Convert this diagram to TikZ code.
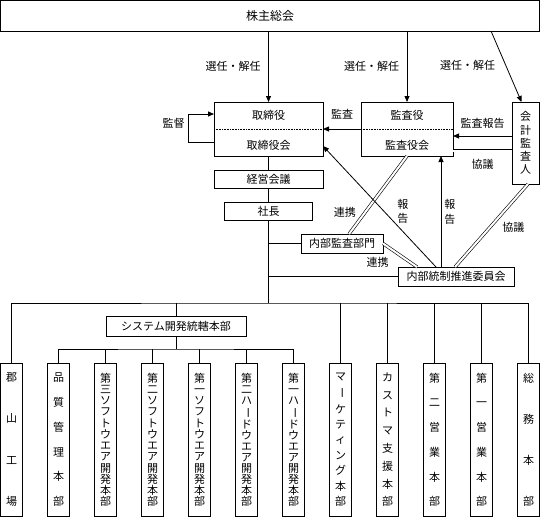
\documentclass[tikz,border=0pt]{standalone}
\usepackage{fontspec}
\setmainfont{Noto Sans CJK JP}
\usepackage{graphicx}
\usetikzlibrary{arrows.meta,positioning}

\makeatletter
\newcommand{\tate}[2]{\parbox[c][#1][s]{1em}{\centering\@tempswafalse
  \@tfor\tatechar:=#2\do{\if@tempswa\par\vfill\fi\@tempswatrue\tatechar}}}
\makeatother
\newcommand{\tbar}{\rotatebox[origin=c]{-90}{ー}}

\begin{document}
\begin{tikzpicture}[x=1pt,y=-1pt,>={Triangle[length=6pt,width=5pt]},line width=0.8pt,
    font=\fontsize{11}{11}\selectfont,
    box/.style={draw,inner sep=0pt,outer sep=0pt},
    tatebox/.style={draw,inner sep=0pt,outer sep=0pt,minimum width=22pt,minimum height=153.5pt},
    lbl/.style={inner sep=1pt},
    dbl/.style={double,double distance=2pt,line width=0.6pt}]
    \useasboundingbox (0,0) rectangle (540,517);
    % Shareholders, board, auditors
    \node[box,minimum width=539pt,minimum height=30.5pt,font=\fontsize{12}{12}\selectfont] (kn) at (270,15.75) {株主総会};
    \node[box,minimum width=109pt,minimum height=54pt] (tk) at (268.5,129) {};
    \node (tk1) at (268.5,115) {取締役};
    \node (tk2) at (268.5,145) {取締役会};
    \draw[densely dotted,line width=0.6pt] (tk.west) -- (tk.east);
    \node[box,minimum width=92pt,minimum height=54pt] (ks) at (407,129) {};
    \node (ks1) at (407,115) {監査役};
    \node (ks2) at (407,145) {監査役会};
    \draw[densely dotted,line width=0.6pt] (ks.west) -- (ks.east);
    \node[box,minimum width=27pt,minimum height=82pt] (kk) at (525.5,143) {\tate{62pt}{会計監査人}};
    \node[box,minimum width=109pt,minimum height=18pt,below=14pt of tk] (kg) {経営会議};
    \node[box,minimum width=88pt,minimum height=18pt,below=14pt of kg] (sc) {社長};
    \node[box,minimum width=82pt,minimum height=19pt] (nb) at (342,243.5) {内部監査部門};
    \node[box,minimum width=116pt,minimum height=19pt] (nt) at (456,276.5) {内部統制推進委員会};
    \coordinate (rp) at ([xshift=43pt]nt.north west);
    % Double lines (drawn first)
    \draw[dbl] ([xshift=7pt]nb.north) -- node[lbl,pos=0.28,left=8pt]{連携} (ks.south);
    \draw[dbl] (nb.east) -- node[lbl,below left=1pt and 10pt]{連携} ([xshift=19pt]nt.north west);
    \draw[dbl] ([xshift=57pt]nt.north west) -- node[lbl,pos=0.48,right=11pt]{協議} ([xshift=2.5pt]kk.south);
    \draw[dbl] (kk.west |- 0,150.5) -- node[lbl,below=7.5pt]{協議} (ks.east |- 0,150.5);
    % Arrows
    \draw[->] (kn.south -| tk.north) -- node[lbl,left=6.5pt]{選任・解任} (tk.north);
    \draw[->] (kn.south -| ks.north) -- node[lbl,left=6.5pt]{選任・解任} (ks.north);
    \draw[->] ([xshift=221pt]kn.south) -- node[lbl,pos=0.49,left=9.5pt]{選任・解任} ([xshift=-4pt]kk.north);
    \draw[->] ([yshift=-13pt]tk.west) -- ++(-26,0) |- node[lbl,pos=0.34,left=2pt]{監督} ([yshift=15pt]tk.west);
    \draw[->] (ks.west) -- node[lbl,above=8pt]{監査} (tk.east);
    \draw[->] (kk.west |- 0,136) -- node[lbl,above=6pt]{監査報告} (ks.east |- 0,136);
    \draw[->] ([xshift=38pt]nt.north west) -- node[lbl,pos=0.46,right=12pt]{\tate{24pt}{報告}} ([yshift=-17pt]tk.east);
    \draw[->] (rp) -- node[lbl,pos=0.5,right=2pt]{\tate{24pt}{報告}} (rp |- ks.south);
    % President line
    \coordinate (bus) at (268,303);
    \draw (tk.south) -- (kg.north);
    \draw (kg.south) -- (sc.north);
    \draw (sc.south) -- (sc.south |- bus);
    \draw (nb.west) -- (nb.west -| sc.south);
    \draw (nt.west) -- (nt.west -| sc.south);
    % Divisions
    \node[box,minimum width=140pt,minimum height=20pt] (sy) at (176,326) {システム開発統轄本部};
    \node[tatebox] (gy) at (11.5,439.75) {\tate{133pt}{郡山工場}};
    \node[tatebox,right=25pt of gy] (hs) {\tate{133pt}{品質管理本部}};
    \node[tatebox,right=25pt of hs] (s3) {\tate{133pt}{第三ソフトウエア開発本部}};
    \node[tatebox,right=25pt of s3] (s2) {\tate{133pt}{第二ソフトウエア開発本部}};
    \node[tatebox,right=25pt of s2] (s1) {\tate{133pt}{第一ソフトウエア開発本部}};
    \node[tatebox,right=25pt of s1] (h2) {\tate{133pt}{第二ハ\tbar ドウエア開発本部}};
    \node[tatebox,right=25pt of h2] (h1) {\tate{133pt}{第一ハ\tbar ドウエア開発本部}};
    \node[tatebox,right=25pt of h1] (mk) {\tate{133pt}{マ\tbar ケティング本部}};
    \node[tatebox,right=25pt of mk] (cs) {\tate{133pt}{カストマ支援本部}};
    \node[tatebox,right=25pt of cs] (e2) {\tate{133pt}{第二営業本部}};
    \node[tatebox,right=25pt of e2] (e1) {\tate{133pt}{第一営業本部}};
    \node[tatebox,right=25pt of e1] (sm) {\tate{133pt}{総務本部}};
    \draw (gy.north) |- (bus) -| (sm.north);
    \draw (sy.north) -- (sy.north |- bus);
    \draw (mk.north) -- (mk.north |- bus);
    \draw (cs.north) -- (cs.north |- bus);
    \draw (e2.north) -- (e2.north |- bus);
    \draw (e1.north) -- (e1.north |- bus);
    \coordinate (sub) at (176,349);
    \draw (sy.south) -- (sub);
    \draw (hs.north) |- (sub) -| (h1.north);
    \draw (s3.north) -- (s3.north |- sub);
    \draw (s2.north) -- (s2.north |- sub);
    \draw (s1.north) -- (s1.north |- sub);
    \draw (h2.north) -- (h2.north |- sub);
\end{tikzpicture}
\end{document}
